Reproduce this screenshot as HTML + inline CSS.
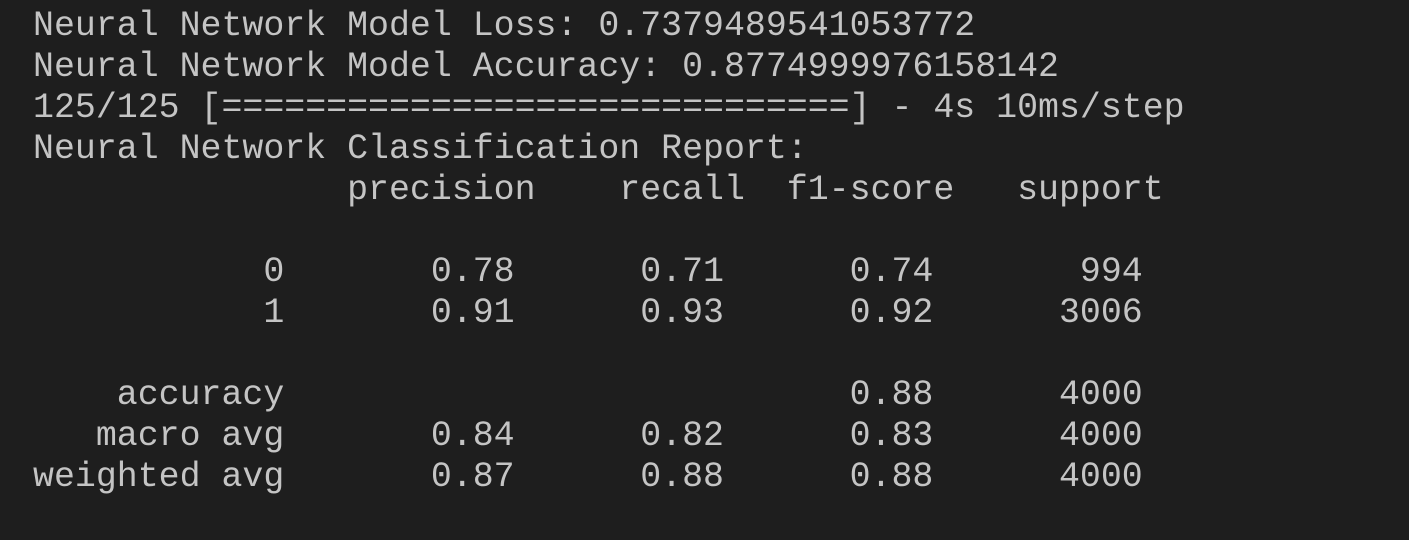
<!DOCTYPE html>
<html>
<head>
<meta charset="utf-8">
<style>
  html, body { margin: 0; padding: 0; }
  body { width: 1409px; height: 540px; background: #1e1e1e; overflow: hidden; }
  pre {
    position: absolute; left: 33px; top: 6px; margin: 0;
    font-family: "Liberation Mono", monospace;
    font-size: 34.9px; line-height: 41px;
    color: #c4c4c4;
  }
</style>
</head>
<body>
<pre><span>Neural Network Model Loss: 0.7379489541053772</span>
<span>Neural Network Model Accuracy: 0.8774999976158142</span>
<span>125/125 [==============================] - 4s 10ms/step</span>
<span>Neural Network Classification Report:</span>
<span>               precision    recall  f1-score   support</span>

<span>           0       0.78      0.71      0.74       994</span>
<span>           1       0.91      0.93      0.92      3006</span>

<span>    accuracy                           0.88      4000</span>
<span>   macro avg       0.84      0.82      0.83      4000</span>
<span>weighted avg       0.87      0.88      0.88      4000</span></pre>
</body>
</html>
